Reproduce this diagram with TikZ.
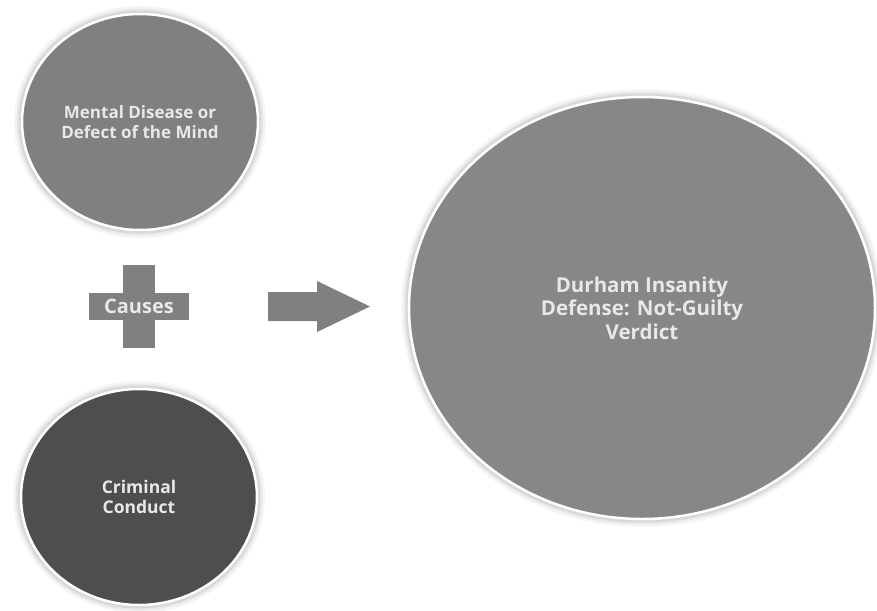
\documentclass[tikz,border=0pt]{standalone}
\usepackage{fontspec}
\setmainfont{Open Sans}
\usetikzlibrary{shapes.geometric}
\definecolor{midgray}{HTML}{808080}
\definecolor{biggray}{HTML}{878787}
\definecolor{darkgray}{HTML}{4E4E4E}
\definecolor{txtwhite}{HTML}{E8E8E8}
\tikzset{
  orb/.style={ellipse, inner sep=0pt, align=center, text=txtwhite,
    preaction={draw=black, draw opacity=0.04, line width=16pt},
    preaction={draw=black, draw opacity=0.05, line width=11pt},
    preaction={draw=black, draw opacity=0.07, line width=7pt},
    draw=white, line width=2.5pt},
  bar/.style={rectangle, fill=midgray, inner sep=0pt},
  lbl/.style={text=txtwhite, inner sep=0pt}
}
\begin{document}
\begin{tikzpicture}[x=1pt, y=-1pt]
\useasboundingbox[fill=white] (0,0) rectangle (877,610);
\node[orb, fill=midgray, minimum width=236pt, minimum height=216pt,
  font=\bfseries\fontsize{17}{20}\selectfont] (mental) at (140,122)
  {Mental Disease or\\Defect of the Mind};
\node[orb, fill=darkgray, minimum width=236pt, minimum height=216pt,
  font=\bfseries\fontsize{17.5}{20}\selectfont] (crim) at (139,497)
  {Criminal\\Conduct};
\node[orb, fill=biggray, minimum width=466pt, minimum height=422pt,
  font=\bfseries\fontsize{20.5}{23.5}\selectfont] (durham) at (642,308)
  {Durham Insanity\\Defense: Not-Guilty\\Verdict};
\node[bar, minimum width=32pt, minimum height=83pt] (plusv) at (139,306.5) {};
\node[bar, minimum width=100pt, minimum height=27pt] (plush) at (139,306.5) {};
\node[lbl, font=\bfseries\fontsize{20}{22}\selectfont] (causes) at (139,306.5) {Causes};
\fill[midgray] (268,292) -- (317,292) -- (317,281) -- (370,306.5) -- (317,332)
  -- (317,321) -- (268,321) -- cycle;
\end{tikzpicture}
\end{document}
